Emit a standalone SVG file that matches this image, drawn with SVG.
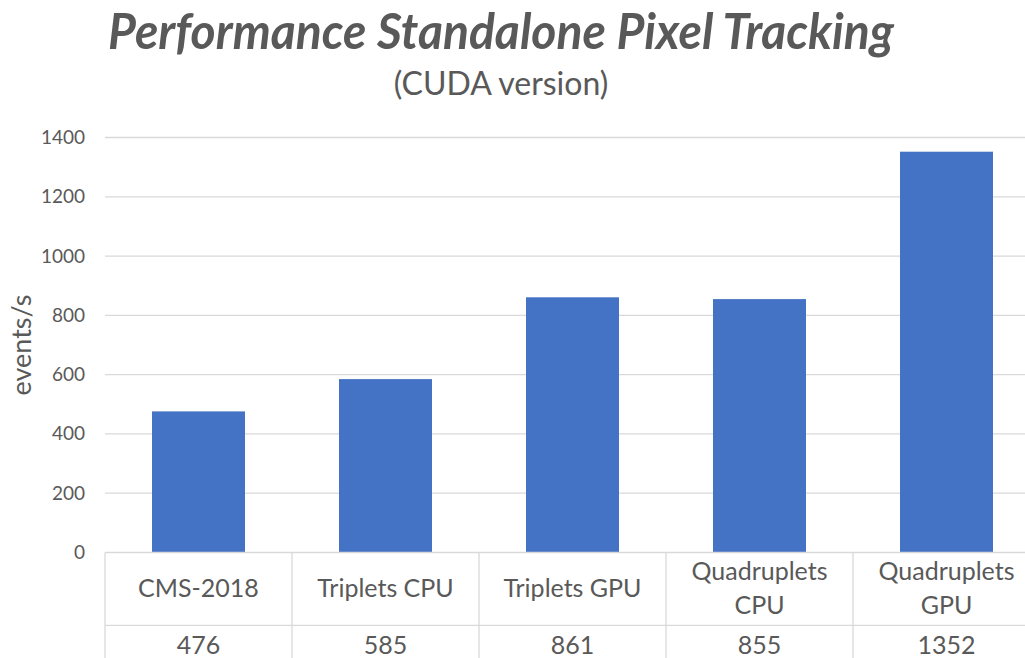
<svg xmlns="http://www.w3.org/2000/svg" width="1025" height="658" viewBox="0 0 1025 658">
  <style>
    .t { font-family: Lato, "Open Sans", "Liberation Sans", sans-serif; fill: #595959; }
    .tick { font-size: 19px; text-anchor: end; }
    .cat { font-size: 25px; text-anchor: middle; }
    .grid { stroke: #d9d9d9; stroke-width: 1.3; }
    .bar { fill: #4472c4; }
  </style>
  <rect width="1025" height="658" fill="#ffffff"/>

  <!-- titles -->
  <g id="title">
    <text class="t" x="108" y="49" font-size="50" font-weight="bold" font-style="italic" textLength="786" lengthAdjust="spacingAndGlyphs">Performance Standalone Pixel Tracking</text>
    <text class="t" x="501" y="95" font-size="32" text-anchor="middle">(CUDA version)</text>
  </g>

  <!-- horizontal gridlines -->
  <g id="gridlines" class="grid">
    <line x1="105" y1="137.5" x2="1025" y2="137.5"/>
    <line x1="105" y1="196.8" x2="1025" y2="196.8"/>
    <line x1="105" y1="256.1" x2="1025" y2="256.1"/>
    <line x1="105" y1="315.4" x2="1025" y2="315.4"/>
    <line x1="105" y1="374.6" x2="1025" y2="374.6"/>
    <line x1="105" y1="433.9" x2="1025" y2="433.9"/>
    <line x1="105" y1="493.2" x2="1025" y2="493.2"/>
  </g>

  <!-- y axis -->
  <g id="y-axis">
    <text class="t tick" x="85" y="144">1400</text>
    <text class="t tick" x="85" y="203.3">1200</text>
    <text class="t tick" x="85" y="262.6">1000</text>
    <text class="t tick" x="85" y="321.9">800</text>
    <text class="t tick" x="85" y="381.1">600</text>
    <text class="t tick" x="85" y="440.4">400</text>
    <text class="t tick" x="85" y="499.7">200</text>
    <text class="t tick" x="85" y="559">0</text>
    <text class="t" transform="translate(31,345) rotate(-90)" font-size="27" text-anchor="middle">events/s</text>
  </g>

  <!-- bars -->
  <g id="bar-cms2018"><rect class="bar" x="152" y="411.4" width="93" height="141.1"/></g>
  <g id="bar-triplets-cpu"><rect class="bar" x="339" y="379.1" width="93" height="173.4"/></g>
  <g id="bar-triplets-gpu"><rect class="bar" x="526" y="297.3" width="93" height="255.2"/></g>
  <g id="bar-quadruplets-cpu"><rect class="bar" x="713" y="299.1" width="93" height="253.4"/></g>
  <g id="bar-quadruplets-gpu"><rect class="bar" x="900" y="151.7" width="93" height="400.8"/></g>

  <!-- data table under the axis -->
  <g id="data-table" class="grid">
    <line x1="105" y1="552.5" x2="1025" y2="552.5"/>
    <line x1="105" y1="625.3" x2="1025" y2="625.3"/>
    <line x1="105" y1="552.5" x2="105" y2="658"/>
    <line x1="292" y1="552.5" x2="292" y2="658"/>
    <line x1="479" y1="552.5" x2="479" y2="658"/>
    <line x1="666" y1="552.5" x2="666" y2="658"/>
    <line x1="853" y1="552.5" x2="853" y2="658"/>
  </g>

  <g id="categories">
    <text class="t cat" x="198.5" y="597">CMS-2018</text>
    <text class="t cat" x="385.5" y="597">Triplets CPU</text>
    <text class="t cat" x="572.5" y="597">Triplets GPU</text>
    <text class="t cat" x="759.5" y="580">Quadruplets</text>
    <text class="t cat" x="759.5" y="614">CPU</text>
    <text class="t cat" x="946.5" y="580">Quadruplets</text>
    <text class="t cat" x="946.5" y="614">GPU</text>
  </g>

  <g id="values">
    <text class="t cat" x="198.5" y="654">476</text>
    <text class="t cat" x="385.5" y="654">585</text>
    <text class="t cat" x="572.5" y="654">861</text>
    <text class="t cat" x="759.5" y="654">855</text>
    <text class="t cat" x="946.5" y="654">1352</text>
  </g>
</svg>
